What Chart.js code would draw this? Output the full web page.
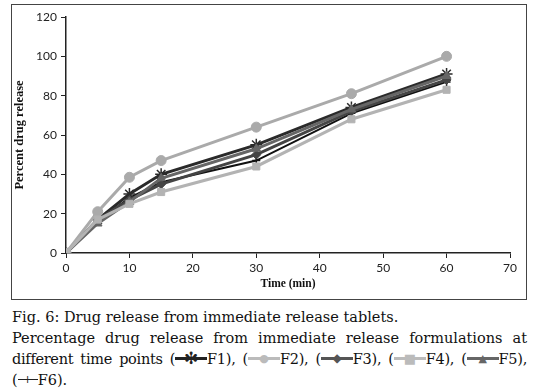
<!DOCTYPE html>
<html>
<head>
<meta charset="utf-8">
<script src="https://cdn.jsdelivr.net/npm/chart.js@4.4.1/dist/chart.umd.min.js"></script>
<style>
  body { margin: 0; background: #fff; width: 536px; height: 392px; overflow: hidden; position: relative; }
  #frame { position: absolute; left: 11px; top: 4px; width: 514px; height: 294px; border: 1.5px solid #444; }
  #wrap { position: absolute; left: 0; top: 0; width: 514px; height: 294px; }
  #caption { position: absolute; left: 12px; top: 307px; width: 515px; font-family: "DejaVu Serif", serif; font-size: 14.5px; line-height: 21px; color: #111; }
  #caption div { white-space: nowrap; }
  #caption .j { text-align: justify; text-align-last: justify; white-space: normal; }
  .sym { display: inline-block; position: relative; width: 32px; height: 10px; vertical-align: 1px; }
  .sym i { position: absolute; left: 0; right: 0; top: 4px; border-top: 3px solid #222; }
  .sym b { position: absolute; left: 50%; top: 50%; transform: translate(-50%, -50%); font-style: normal; font-weight: normal; line-height: 1; }
</style>
</head>
<body>
<div id="frame"><div id="wrap"><canvas id="c"></canvas></div></div>
<div id="caption">
<div>Fig. 6: Drug release from immediate release tablets.</div>
<div class="j">Percentage drug release from immediate release formulations at</div>
<div class="j" style="letter-spacing:-0.3px">different time points (<span class="sym"><i></i><b style="color:#222;font-size:17px">✻</b></span>F1), (<span class="sym"><i style="border-color:#bbb"></i><b style="color:#bbb;font-size:11px">●</b></span>F2), (<span class="sym"><i style="border-color:#555"></i><b style="color:#555;font-size:12px">◆</b></span>F3), (<span class="sym"><i style="border-color:#bbb"></i><b style="color:#bbb;font-size:13px">■</b></span>F4), (<span class="sym"><i style="border-color:#666"></i><b style="color:#666;font-size:11px">▲</b></span>F5),</div>
<div>(<span class="sym" style="width:20px"><i style="border-top-width:1.5px;top:5px"></i><b style="color:#222;font-size:11px">+</b></span>F6).</div>
</div>
<script>
const times = [0, 5, 10, 15, 30, 45, 60];
const F1 = [0, 17, 30, 40, 55, 74, 91];
const F2 = [0, 21, 38.5, 47, 64, 81, 100];
const F3 = [0, 17, 27, 35, 50, 72, 88];
const F4 = [0, 17, 25, 31, 44, 68, 83];
const F5 = [0, 15, 26, 38, 53, 73, 90];
const F6 = [0, 16, 28, 36, 47, 71, 87];
const xTicks = [0, 10, 20, 30, 40, 50, 60, 70];
const yTicks = [0, 20, 40, 60, 80, 100, 120];

function pts(vals) {
  return times.map((t, i) => ({ x: t, y: vals[i] }));
}

function series(label, vals, color, style, radius, width) {
  return {
    label: label,
    data: pts(vals),
    borderColor: color,
    backgroundColor: color,
    pointBorderColor: color,
    pointBackgroundColor: color,
    pointStyle: style,
    pointRadius: radius,
    pointBorderWidth: style === "star" || style === "cross" ? 1.5 : 1,
    borderWidth: width
  };
}

const ctx = document.getElementById("c").getContext("2d");
new Chart(ctx, {
  type: "line",
  data: {
    datasets: [
      series("F4", F4, "#b3b3b3", "rect", 5, 3),
      series("F2", F2, "#aaaaaa", "circle", 5, 3),
      series("F5", F5, "#666666", "triangle", 5, 3),
      series("F3", F3, "#444444", "rectRot", 4.5, 3),
      series("F1", F1, "#2a2a2a", "star", 6, 3),
      series("F6", F6, "#111111", "cross", 4, 2)
    ]
  },
  options: {
    responsive: true,
    maintainAspectRatio: false,
    animation: false,
    layout: { padding: { top: 12, right: 16, left: 0, bottom: 0 } },
    plugins: { legend: { display: false }, tooltip: { enabled: false } },
    scales: {
      x: {
        type: "linear",
        min: 0,
        max: 70,
        afterBuildTicks: s => { s.ticks = xTicks.map(v => ({ value: v })); },
        afterFit: s => { s.height = 46; },
        grid: { drawOnChartArea: false, drawTicks: true, tickLength: 5, color: "#222" },
        border: { color: "#222", width: 1.5 },
        ticks: { color: "#222", font: { family: "Lato", size: 12 }, padding: 3, maxRotation: 0 },
        title: { display: true, text: "Time (min)", color: "#111", font: { family: "Liberation Serif", size: 11.5, weight: "bold" }, padding: { top: 4, bottom: 8 } }
      },
      y: {
        min: 0,
        max: 120,
        afterBuildTicks: s => { s.ticks = yTicks.map(v => ({ value: v })); },
        afterFit: s => { s.width = 54; },
        grid: { drawOnChartArea: false, drawTicks: true, tickLength: 5, color: "#222" },
        border: { color: "#222", width: 1.5 },
        ticks: { color: "#222", font: { family: "Lato", size: 12 }, padding: 4 },
        title: { display: true, text: "Percent drug release", color: "#111", font: { family: "Liberation Serif", size: 12.5, weight: "bold" }, padding: { top: 0, bottom: 4 } }
      }
    }
  }
});
</script>
</body>
</html>
